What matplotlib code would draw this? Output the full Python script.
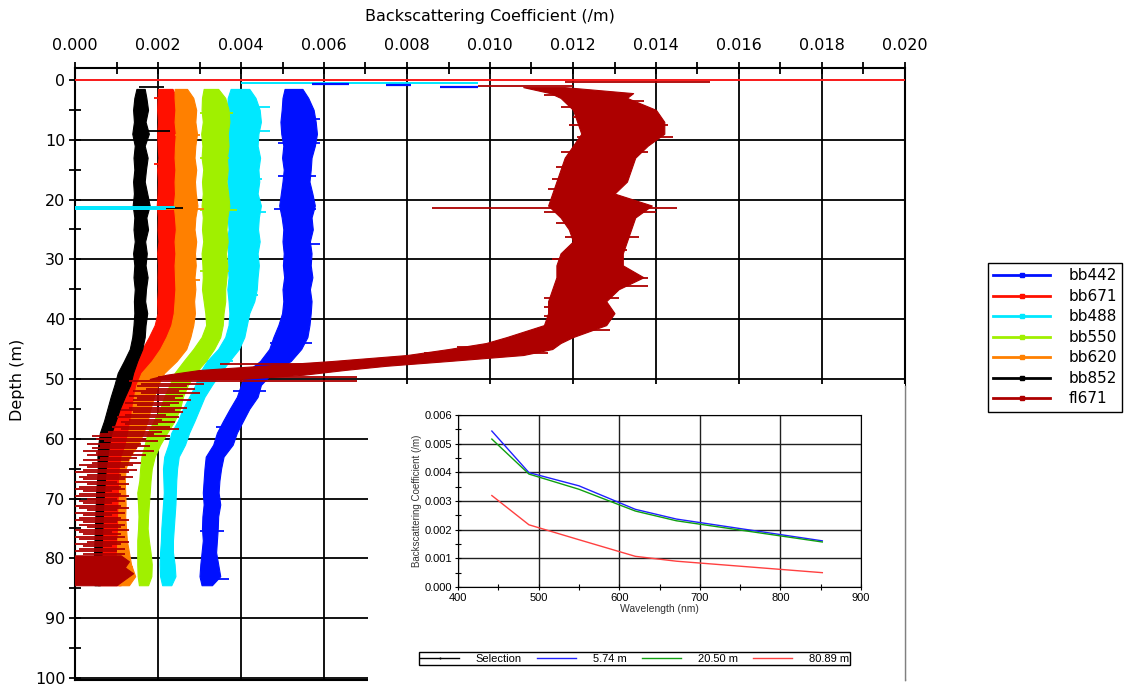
import matplotlib

matplotlib.use("Agg")
import matplotlib.pyplot as plt
from matplotlib.lines import Line2D
from matplotlib.patches import Rectangle
from matplotlib.ticker import MultipleLocator, FormatStrFormatter

# ---- depth profiles: band edges (left / right), /m ----
DEPTH = [1.5, 3, 5, 7, 9, 11, 13, 15, 17, 19, 21, 23, 25, 27, 29, 31, 33, 35,
         37, 39, 41, 43, 45, 47, 49, 51, 53, 55, 57, 59, 61, 63, 65, 67, 69,
         71, 73, 75, 77, 79, 81, 83, 84.5]

BB442_LO = [0.00505, 0.00500, 0.00498, 0.00495, 0.00497, 0.00502, 0.00499, 0.00503,
            0.00500, 0.00496, 0.00492, 0.00498, 0.00502, 0.00500, 0.00503, 0.00501,
            0.00504, 0.00500, 0.00502, 0.00499, 0.00490, 0.00478, 0.00468, 0.00446,
            0.00410, 0.00400, 0.00390, 0.00373, 0.00357, 0.00342, 0.00333, 0.00315,
            0.00312, 0.00310, 0.00308, 0.00310, 0.00307, 0.00306, 0.00308, 0.00305,
            0.00302, 0.00300, 0.00305]
BB442_HI = [0.00548, 0.00562, 0.00575, 0.00580, 0.00583, 0.00578, 0.00570, 0.00568,
            0.00565, 0.00572, 0.00578, 0.00570, 0.00573, 0.00566, 0.00570, 0.00568,
            0.00572, 0.00566, 0.00570, 0.00568, 0.00565, 0.00560, 0.00545, 0.00520,
            0.00475, 0.00448, 0.00440, 0.00420, 0.00405, 0.00390, 0.00380, 0.00358,
            0.00352, 0.00348, 0.00346, 0.00350, 0.00345, 0.00344, 0.00342, 0.00340,
            0.00345, 0.00350, 0.00330]

BB671_LO = [0.00200, 0.00199, 0.00198, 0.00200, 0.00198, 0.00199, 0.00201, 0.00198,
            0.00200, 0.00199, 0.00197, 0.00200, 0.00199, 0.00201, 0.00198, 0.00200,
            0.00199, 0.00200, 0.00198, 0.00199, 0.00192, 0.00178, 0.00162, 0.00148,
            0.00128, 0.00118, 0.00112, 0.00106, 0.00095, 0.00078, 0.00070, 0.00066,
            0.00064, 0.00060, 0.00058, 0.00060, 0.00057, 0.00058, 0.00055, 0.00052,
            0.00050, 0.00050, 0.00055]
BB671_HI = [0.00235, 0.00245, 0.00248, 0.00246, 0.00250, 0.00247, 0.00245, 0.00246,
            0.00244, 0.00247, 0.00250, 0.00246, 0.00244, 0.00247, 0.00245, 0.00246,
            0.00244, 0.00247, 0.00245, 0.00250, 0.00246, 0.00235, 0.00222, 0.00212,
            0.00200, 0.00192, 0.00185, 0.00178, 0.00165, 0.00148, 0.00130, 0.00122,
            0.00118, 0.00116, 0.00115, 0.00114, 0.00116, 0.00113, 0.00115, 0.00118,
            0.00120, 0.00122, 0.00110]

BB488_LO = [0.00375, 0.00368, 0.00366, 0.00362, 0.00368, 0.00370, 0.00366, 0.00369,
            0.00367, 0.00370, 0.00365, 0.00368, 0.00370, 0.00366, 0.00369, 0.00368,
            0.00370, 0.00367, 0.00370, 0.00372, 0.00370, 0.00362, 0.00345, 0.00318,
            0.00300, 0.00290, 0.00275, 0.00260, 0.00248, 0.00232, 0.00225, 0.00215,
            0.00212, 0.00213, 0.00214, 0.00212, 0.00210, 0.00208, 0.00207, 0.00205,
            0.00204, 0.00205, 0.00210]
BB488_HI = [0.00420, 0.00435, 0.00445, 0.00448, 0.00442, 0.00440, 0.00446, 0.00442,
            0.00444, 0.00440, 0.00448, 0.00443, 0.00441, 0.00445, 0.00440, 0.00443,
            0.00440, 0.00438, 0.00432, 0.00420, 0.00414, 0.00408, 0.00395, 0.00372,
            0.00350, 0.00330, 0.00312, 0.00300, 0.00288, 0.00275, 0.00265, 0.00250,
            0.00246, 0.00244, 0.00243, 0.00242, 0.00240, 0.00238, 0.00236, 0.00236,
            0.00240, 0.00242, 0.00232]

BB550_LO = [0.00310, 0.00306, 0.00305, 0.00308, 0.00304, 0.00307, 0.00305, 0.00309,
            0.00306, 0.00308, 0.00305, 0.00308, 0.00306, 0.00309, 0.00305, 0.00307,
            0.00308, 0.00306, 0.00310, 0.00314, 0.00316, 0.00305, 0.00285, 0.00262,
            0.00240, 0.00228, 0.00215, 0.00205, 0.00190, 0.00175, 0.00168, 0.00160,
            0.00157, 0.00155, 0.00150, 0.00152, 0.00153, 0.00152, 0.00150, 0.00150,
            0.00150, 0.00151, 0.00154]
BB550_HI = [0.00345, 0.00362, 0.00370, 0.00372, 0.00368, 0.00370, 0.00366, 0.00368,
            0.00365, 0.00369, 0.00372, 0.00367, 0.00365, 0.00368, 0.00364, 0.00367,
            0.00365, 0.00362, 0.00362, 0.00358, 0.00356, 0.00350, 0.00335, 0.00315,
            0.00290, 0.00272, 0.00260, 0.00253, 0.00240, 0.00222, 0.00205, 0.00192,
            0.00185, 0.00182, 0.00180, 0.00178, 0.00176, 0.00175, 0.00178, 0.00182,
            0.00185, 0.00184, 0.00176]

BB620_LO = [0.00240, 0.00240, 0.00242, 0.00240, 0.00243, 0.00241, 0.00240, 0.00242,
            0.00240, 0.00241, 0.00238, 0.00241, 0.00243, 0.00240, 0.00242, 0.00240,
            0.00241, 0.00242, 0.00240, 0.00238, 0.00232, 0.00220, 0.00205, 0.00185,
            0.00160, 0.00148, 0.00142, 0.00138, 0.00133, 0.00128, 0.00122, 0.00112,
            0.00108, 0.00106, 0.00106, 0.00105, 0.00104, 0.00104, 0.00102, 0.00101,
            0.00101, 0.00102, 0.00105]
BB620_HI = [0.00270, 0.00285, 0.00292, 0.00290, 0.00294, 0.00290, 0.00288, 0.00292,
            0.00289, 0.00291, 0.00295, 0.00290, 0.00288, 0.00292, 0.00289, 0.00291,
            0.00288, 0.00290, 0.00287, 0.00289, 0.00285, 0.00278, 0.00268, 0.00245,
            0.00215, 0.00200, 0.00190, 0.00182, 0.00175, 0.00165, 0.00152, 0.00132,
            0.00122, 0.00120, 0.00121, 0.00122, 0.00121, 0.00123, 0.00125, 0.00130,
            0.00135, 0.00145, 0.00130]

BB852_LO = [0.00148, 0.00143, 0.00140, 0.00142, 0.00138, 0.00144, 0.00141, 0.00143,
            0.00140, 0.00142, 0.00139, 0.00143, 0.00141, 0.00144, 0.00140, 0.00143,
            0.00141, 0.00144, 0.00142, 0.00143, 0.00141, 0.00138, 0.00132, 0.00118,
            0.00103, 0.00095, 0.00086, 0.00078, 0.00070, 0.00060, 0.00056, 0.00054,
            0.00055, 0.00053, 0.00051, 0.00050, 0.00049, 0.00048, 0.00047, 0.00046,
            0.00045, 0.00045, 0.00047]
BB852_HI = [0.00168, 0.00172, 0.00176, 0.00170, 0.00178, 0.00168, 0.00175, 0.00171,
            0.00168, 0.00174, 0.00180, 0.00172, 0.00176, 0.00169, 0.00173, 0.00170,
            0.00175, 0.00171, 0.00169, 0.00174, 0.00170, 0.00168, 0.00162, 0.00150,
            0.00140, 0.00133, 0.00120, 0.00108, 0.00098, 0.00088, 0.00082, 0.00078,
            0.00074, 0.00072, 0.00070, 0.00068, 0.00067, 0.00066, 0.00065, 0.00064,
            0.00063, 0.00062, 0.00060]

# short horizontal excursions sticking out of each band (depth, left, right)
BB442_SPIKES = [(6.5, 0.0050, 0.0059), (10.5, 0.0049, 0.0059), (16.0, 0.0049, 0.0058),
                (21.5, 0.0048, 0.0058), (27.5, 0.0050, 0.0059), (44.0, 0.0047, 0.0057),
                (52.0, 0.0038, 0.0046), (58.0, 0.0034, 0.0040), (75.5, 0.0030, 0.0036),
                (83.5, 0.0030, 0.0037)]
BB671_SPIKES = [(3.0, 0.0019, 0.0023), (21.3, 0.0020, 0.0029), (14.0, 0.0019, 0.0023)]
BB488_SPIKES = [(4.5, 0.0036, 0.0047), (8.5, 0.0037, 0.0047), (16.5, 0.0036, 0.0045),
                (22.0, 0.0037, 0.0046), (36.0, 0.0037, 0.0044), (47.0, 0.0031, 0.0038)]
BB550_SPIKES = [(5.5, 0.0030, 0.0038), (13.0, 0.0030, 0.0037), (21.8, 0.0030, 0.0039),
                (32.0, 0.0030, 0.0037)]
BB620_SPIKES = [(9.2, 0.0024, 0.0030), (21.5, 0.0022, 0.0031), (33.5, 0.0024, 0.0030),
                (81.5, 0.0010, 0.0014)]
BB852_SPIKES = [(21.4, 0.0015, 0.0026), (8.6, 0.0017, 0.0023), (1.2, 0.00155, 0.00215)]

# fl671: dense band, then horizontal spikes, then a block at the bottom
FL_DEPTH = [1.2, 2.2, 3, 5, 7, 9, 11, 13, 15, 17, 19, 21, 23, 25, 27, 29, 31,
            33, 35, 37, 39, 41, 43, 44, 45, 46, 47, 47.8, 48.5, 49.3, 50]
FL_LO = [0.0108, 0.01145, 0.0117, 0.0120, 0.0121, 0.0122, 0.0120, 0.0118, 0.0117,
         0.0116, 0.0115, 0.0114, 0.0117, 0.0119, 0.0120, 0.0117, 0.0116, 0.0116,
         0.0115, 0.0114, 0.0114, 0.0113, 0.0104, 0.0099, 0.0090, 0.0080, 0.0062,
         0.0045, 0.0030, 0.0022, 0.0018]
FL_HI = [0.0118, 0.01345, 0.0133, 0.0140, 0.0142, 0.0142, 0.0138, 0.0135, 0.0134,
         0.0133, 0.0130, 0.0139, 0.0135, 0.0134, 0.0133, 0.0132, 0.0132, 0.0137,
         0.0131, 0.0128, 0.0130, 0.0128, 0.0120, 0.0117, 0.0115, 0.0108, 0.0090,
         0.0075, 0.0065, 0.0055, 0.0040]

FL_SPIKE_DEPTH = [0.3, 1.0, 2.5, 3.5, 4.5, 6.2, 7.6, 9.5, 12.0, 14.5, 16.5, 18.2,
                  21.4, 22.0, 24.0, 26.2, 28.5, 30.0, 33.2, 34.5, 36.5, 38.0, 39.5,
                  41.8, 44.6, 45.7, 47.5, 49.6, 50.3,
                  50.8, 51.2, 51.6, 52.0, 52.4, 52.8, 53.2, 53.6, 54.0, 54.4, 54.8,
                  55.2, 55.6, 56.0, 56.4, 56.8, 57.2, 57.6, 58.0, 58.4, 58.8, 59.2,
                  59.6, 60.0, 60.4, 60.8, 61.2, 61.6, 62.0, 62.4, 62.8, 63.2, 63.6,
                  64.0, 64.4, 64.8, 65.2, 65.6, 66.0, 66.4, 66.8, 67.2, 67.6, 68.0,
                  68.4, 68.8, 69.2, 69.6, 70.0, 70.4, 70.8, 71.2, 71.6, 72.0, 72.4,
                  72.8, 73.2, 73.6, 74.0, 74.4, 74.8, 75.2, 75.6, 76.0, 76.4, 76.8,
                  77.2, 77.6, 78.0, 78.4, 78.8, 79.2]
FL_SPIKE_LEFT = [0.0118, 0.0097, 0.0113, 0.0119, 0.0117, 0.0120, 0.0119, 0.0121,
                 0.0117, 0.0116, 0.0115, 0.0114, 0.0086, 0.0113, 0.0116, 0.0118,
                 0.0118, 0.0115, 0.0117, 0.0118, 0.0113, 0.0113, 0.0113, 0.0111,
                 0.0092, 0.0084, 0.0035, 0.0020, 0.0013,
                 0.0016, 0.0015, 0.0017, 0.0014, 0.0016, 0.0013, 0.0015, 0.0014,
                 0.0012, 0.0015, 0.0013, 0.0011, 0.0014, 0.0012, 0.0010, 0.0013,
                 0.0011, 0.0012, 0.0009, 0.0011, 0.0008, 0.0006, 0.0004, 0.0005,
                 0.0007, 0.0003, 0.0006, 0.0004, 0.0002, 0.0005, 0.0003, 0.0006,
                 0.0002, 0.0004, 0.0001, 0.0003, 0.0002, 0.0000, 0.0003, 0.0001,
                 0.0002, 0.0000, 0.0003, 0.0001, 0.0000, 0.0002, 0.0001, 0.0000,
                 0.0003, 0.0001, 0.0002, 0.0000, 0.0001, 0.0003, 0.0000, 0.0002,
                 0.0001, 0.0000, 0.0002, 0.0001, 0.0003, 0.0000, 0.0001, 0.0002,
                 0.0000, 0.0001, 0.0003, 0.0000, 0.0002, 0.0001, 0.0000, 0.0002]
FL_SPIKE_RIGHT = [0.0153, 0.0120, 0.0127, 0.0137, 0.0133, 0.0140, 0.0143, 0.0144,
                  0.0138, 0.0134, 0.0133, 0.0131, 0.0145, 0.0140, 0.0134, 0.0136,
                  0.0133, 0.0131, 0.0138, 0.0138, 0.0131, 0.0129, 0.0127, 0.0129,
                  0.0116, 0.0114, 0.0072, 0.0068, 0.0068,
                  0.0031, 0.0027, 0.0029, 0.0025, 0.0030, 0.0026, 0.0024, 0.0028,
                  0.0025, 0.0023, 0.0027, 0.0024, 0.0026, 0.0022, 0.0025, 0.0021,
                  0.0024, 0.0020, 0.0023, 0.0025, 0.0021, 0.0019, 0.0023, 0.0017,
                  0.0020, 0.0016, 0.0018, 0.0015, 0.0019, 0.0014, 0.0017, 0.0015,
                  0.0013, 0.0016, 0.0014, 0.0012, 0.0015, 0.0013, 0.0011, 0.0014,
                  0.0012, 0.0010, 0.0013, 0.0011, 0.0012, 0.0009, 0.0011, 0.0013,
                  0.0010, 0.0012, 0.0009, 0.0011, 0.0013, 0.0010, 0.0012, 0.0009,
                  0.0011, 0.0013, 0.0010, 0.0012, 0.0011, 0.0013, 0.0009, 0.0011,
                  0.0012, 0.0010, 0.0013, 0.0011, 0.0009, 0.0012, 0.0010, 0.0012]

FL_BOTTOM_DEPTH = [79.5, 80.5, 81.5, 82.5, 83.5, 84.5]
FL_BOTTOM_HI = [0.0011, 0.0013, 0.0012, 0.0014, 0.0012, 0.0010]

# surface samples
SURFACE_CYAN = [(0.5, 0.0040, 0.0097)]
SURFACE_BLUE = [(0.7, 0.0057, 0.0066), (0.8, 0.0075, 0.0081), (1.2, 0.0088, 0.0097)]
CYAN_SPIKES = [(21.2, 0.0000, 0.0024), (21.6, 0.0000, 0.0022)]

SERIES = ["bb442", "bb671", "bb488", "bb550", "bb620", "bb852", "fl671"]
COLORS = {"bb442": "#0010ff", "bb671": "#ff1000", "bb488": "#00e8ff",
          "bb550": "#a0f000", "bb620": "#ff8000", "bb852": "#000000",
          "fl671": "#ad0000"}
BANDS = {"bb442": (BB442_LO, BB442_HI, BB442_SPIKES),
         "bb671": (BB671_LO, BB671_HI, BB671_SPIKES),
         "bb488": (BB488_LO, BB488_HI, BB488_SPIKES),
         "bb550": (BB550_LO, BB550_HI, BB550_SPIKES),
         "bb620": (BB620_LO, BB620_HI, BB620_SPIKES),
         "bb852": (BB852_LO, BB852_HI, BB852_SPIKES)}

# ---- inset: spectra at three depths ----
WAVELENGTH = [442, 488, 550, 620, 671, 852]
SPEC_574 = [0.00544, 0.00399, 0.00353, 0.00271, 0.00237, 0.00161]
SPEC_2050 = [0.00516, 0.00394, 0.00341, 0.00265, 0.00231, 0.00157]
SPEC_8089 = [0.00319, 0.00217, 0.00165, 0.00107, 0.00090, 0.00050]
SPEC_LABELS = ["Selection", "5.74 m", "20.50 m", "80.89 m"]

W, H = 1131, 692
fig = plt.figure(figsize=(W / 100, H / 100), dpi=100)
ax = fig.add_axes([75 / W, 1 - 680 / H, 830 / W, 612 / H])

for i, name in enumerate(SERIES[:-1]):
    lo, hi, spikes = BANDS[name]
    col = COLORS[name]
    ax.fill_betweenx(DEPTH, lo, hi, color=col, lw=0.8, zorder=3 + i)
    for d, a, b in spikes:
        ax.hlines(d, a, b, color=col, lw=1.3, zorder=3 + i)

c = COLORS["fl671"]
ax.fill_betweenx(FL_DEPTH, FL_LO, FL_HI, color=c, lw=0.8, zorder=10)
ax.hlines(FL_SPIKE_DEPTH, FL_SPIKE_LEFT, FL_SPIKE_RIGHT, color=c, lw=1.3, zorder=10)
ax.fill_betweenx(FL_BOTTOM_DEPTH, [0.0] * len(FL_BOTTOM_DEPTH), FL_BOTTOM_HI,
                 color=c, lw=0.8, zorder=10)

ax.axhline(0.0, color="#ff2020", lw=1.4, zorder=11)
for d, a, b in SURFACE_CYAN + CYAN_SPIKES:
    ax.hlines(d, a, b, color=COLORS["bb488"], lw=1.4, zorder=11)
for d, a, b in SURFACE_BLUE:
    ax.hlines(d, a, b, color=COLORS["bb442"], lw=1.6, zorder=11)

ax.set_xlim(0, 0.020)
ax.set_ylim(100.35, -2.0)
ax.xaxis.set_major_locator(MultipleLocator(0.002))
ax.xaxis.set_minor_locator(MultipleLocator(0.001))
ax.xaxis.set_major_formatter(FormatStrFormatter("%.3f"))
ax.yaxis.set_major_locator(MultipleLocator(10))
ax.yaxis.set_minor_locator(MultipleLocator(5))
ax.xaxis.tick_top()
ax.tick_params(which="both", direction="inout", length=8, width=1.3,
               labelsize=11.5, colors="black")
ax.tick_params(axis="x", pad=7)
ax.tick_params(axis="y", pad=3)
ax.grid(True, which="major", color="black", lw=1.3)
ax.set_axisbelow(True)
for s in ax.spines.values():
    s.set_linewidth(1.5)

fig.text(490 / W, 1 - 16 / H, "Backscattering Coefficient (/m)", ha="center",
         va="center", fontsize=11.5)
fig.text(18 / W, 1 - 380 / H, "Depth (m)", ha="center", va="center",
         rotation=90, fontsize=11.5)

handles = [Line2D([], [], color=COLORS[n], lw=2, marker="s", markersize=2.2)
           for n in SERIES]
fig.legend(handles, SERIES, loc="upper left", bbox_to_anchor=(988 / W, 1 - 263 / H),
           borderaxespad=0, fontsize=11, handlelength=3.7, handletextpad=1.2,
           labelspacing=0.36, borderpad=0.35, fancybox=False, edgecolor="black",
           framealpha=1, numpoints=1)

# white window holding the inset spectrum chart
fig.patches.append(Rectangle((368 / W, 0), (905 - 368) / W, (692 - 384) / H,
                             transform=fig.transFigure, facecolor="white",
                             edgecolor="none", zorder=2))
fig.lines.append(Line2D([905 / W, 905 / W], [1 - 680 / H, 1 - 386 / H],
                        transform=fig.transFigure, color="#808080", lw=1, zorder=3))

inset_font = "Liberation Sans"
ins = fig.add_axes([458 / W, 1 - 587 / H, 403 / W, 172 / H])
ins.set_zorder(4)
ins.plot(WAVELENGTH, SPEC_574, color="#2020ff", lw=1)
ins.plot(WAVELENGTH, SPEC_2050, color="#10a010", lw=1)
ins.plot(WAVELENGTH, SPEC_8089, color="#ff4040", lw=1)
ins.set_xlim(400, 900)
ins.set_ylim(0, 0.006)
ins.xaxis.set_major_locator(MultipleLocator(100))
ins.xaxis.set_minor_locator(MultipleLocator(50))
ins.yaxis.set_major_locator(MultipleLocator(0.001))
ins.yaxis.set_minor_locator(MultipleLocator(0.0005))
ins.yaxis.set_major_formatter(FormatStrFormatter("%.3f"))
ins.tick_params(which="both", direction="inout", length=4, width=0.8,
                labelsize=8, pad=2)
for lab in ins.get_xticklabels() + ins.get_yticklabels():
    lab.set_family(inset_font)
ins.grid(True, which="major", color="#202020", lw=1)
ins.set_axisbelow(True)
ins.set_xlabel("Wavelength (nm)", fontsize=7.5, family=inset_font, labelpad=1,
               color="#333333")
ins.set_ylabel("Backscattering Coefficient (/m)", fontsize=7, family=inset_font,
               labelpad=2, color="#333333")

spec_handles = [Line2D([], [], color="black", lw=1, marker="|", markersize=2),
                Line2D([], [], color="#2020ff", lw=1),
                Line2D([], [], color="#10a010", lw=1),
                Line2D([], [], color="#ff4040", lw=1)]
leg = fig.legend(spec_handles, SPEC_LABELS, loc="lower left", ncol=4, mode="expand",
                 bbox_to_anchor=(413 / W, 1 - 671 / H, 443 / W, 18 / H),
                 prop={"family": inset_font, "size": 8}, handlelength=3.5,
                 handletextpad=1.5, borderpad=0.15, fancybox=False,
                 edgecolor="black", framealpha=1, numpoints=1)
leg.set_zorder(5)

fig.savefig("out.png", dpi=100)
